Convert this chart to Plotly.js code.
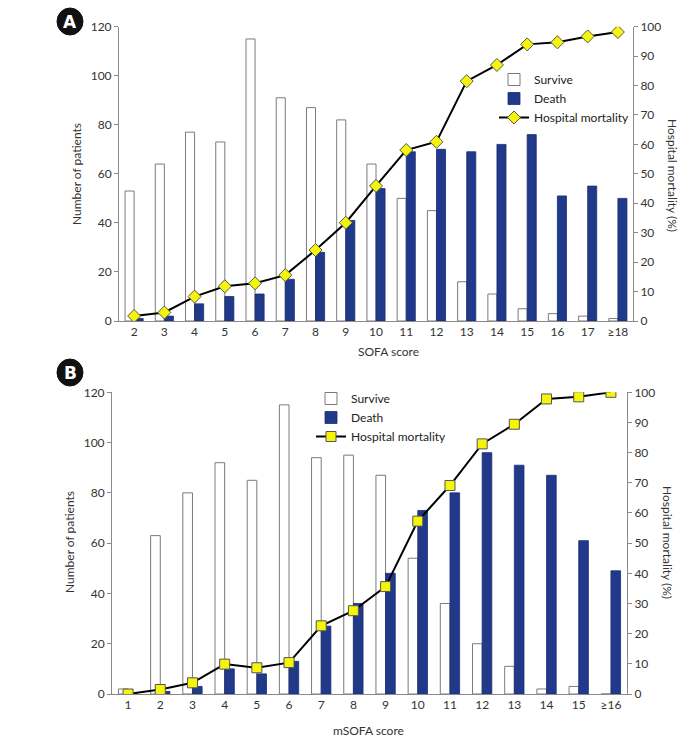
<!DOCTYPE html>
<html>
<head>
<meta charset="utf-8">
<script src="https://cdn.plot.ly/plotly-3.0.1.min.js"></script>
<style>html,body{margin:0;padding:0;background:#fff;}#chart{width:699px;height:743px;}</style>
</head>
<body>
<div id="chart"></div>
<script>
// Panel A: SOFA score
const catsA = ["2","3","4","5","6","7","8","9","10","11","12","13","14","15","16","17","≥18"];
const surviveA = [53, 64, 77, 73, 115, 91, 87, 82, 64, 50, 45, 16, 11, 5, 3, 2, 1];
const deathA = [1, 2, 7, 10, 11, 17, 28, 41, 54, 69, 70, 69, 72, 76, 51, 55, 50];
const mortalityA = [1.7, 2.9, 8.3, 11.8, 12.8, 15.6, 24.1, 33.4, 45.9, 58.1, 60.9, 81.5, 87.0, 94.0, 94.7, 96.7, 98.2];

// Panel B: mSOFA score
const catsB = ["1","2","3","4","5","6","7","8","9","10","11","12","13","14","15","≥16"];
const surviveB = [2, 63, 80, 92, 85, 115, 94, 95, 87, 54, 36, 20, 11, 2, 3, 0];
const deathB = [0, 1, 3, 10, 8, 13, 27, 36, 48, 73, 80, 96, 91, 87, 61, 49];
const mortalityB = [0, 1.5, 3.7, 9.9, 8.7, 10.4, 22.6, 27.6, 35.6, 57.3, 69.1, 82.9, 89.4, 97.8, 98.5, 100];

const FONT = "Lato, Open Sans, sans-serif";
const NAVY = "#21398a";
const AX = "#8a8a8a";

const traces = [
  {type:"bar", x:catsA, y:surviveA, name:"Survive", xaxis:"x", yaxis:"y", legend:"legend",
   marker:{color:"#ffffff", line:{color:"#7a7a7a", width:1}}},
  {type:"bar", x:catsA, y:deathA, name:"Death", xaxis:"x", yaxis:"y", legend:"legend",
   marker:{color:NAVY, line:{color:"#1a2d6e", width:0.8}}},
  {type:"scatter", mode:"lines+markers", x:catsA, y:mortalityA, name:"Hospital mortality", xaxis:"x", yaxis:"y2", legend:"legend",
   line:{color:"#000", width:2}, marker:{symbol:"diamond", size:10, color:"#f5f50a", line:{color:"#555", width:1}}},
  {type:"bar", x:catsB, y:surviveB, name:"Survive", xaxis:"x2", yaxis:"y3", legend:"legend2",
   marker:{color:"#ffffff", line:{color:"#7a7a7a", width:1}}},
  {type:"bar", x:catsB, y:deathB, name:"Death", xaxis:"x2", yaxis:"y3", legend:"legend2",
   marker:{color:NAVY, line:{color:"#1a2d6e", width:0.8}}},
  {type:"scatter", mode:"lines+markers", x:catsB, y:mortalityB, name:"Hospital mortality", xaxis:"x2", yaxis:"y4", legend:"legend2",
   line:{color:"#000", width:2}, marker:{symbol:"square", size:10, color:"#f5f50a", line:{color:"#555", width:1}}}
];

const tickfont = {family:FONT, size:12, color:"#333"};
function xax(domain, anchor, n){
  return {domain:domain, anchor:anchor, type:"category", range:[-0.5, n-0.5], showline:true, linecolor:AX, linewidth:1,
          ticks:"", tickfont:tickfont, showgrid:false, zeroline:false, fixedrange:true};
}
function yl(domain, anchor, max, dt){
  return {domain:domain, anchor:anchor, range:[0,max], dtick:dt, showline:true, linecolor:AX, linewidth:1,
          ticks:"outside", ticklen:4, tickcolor:AX, tickfont:tickfont, showgrid:false, zeroline:false, fixedrange:true};
}

const domXA = [119/699, 633/699], domYA = [1-321/743, 1-26.7/743];
const domXB = [112/699, 627/699], domYB = [1-694/743, 1-392.3/743];

function ann(text, x, y, angle, size, color, family){
  return {text:text, xref:"paper", yref:"paper", x:x/699, y:1-y/743, xanchor:"center", yanchor:"middle",
          textangle:angle||0, showarrow:false, font:{family:family||FONT, size:size||12, color:color||"#333"}};
}

const layout = {
  width:699, height:743, margin:{l:0,r:0,t:0,b:0},
  paper_bgcolor:"#fff", plot_bgcolor:"#fff",
  font:{family:FONT, color:"#333"},
  barmode:"group", bargap:0.4, bargroupgap:0,
  xaxis: xax(domXA, "y", catsA.length),
  yaxis: yl(domYA, "x", 120, 20),
  yaxis2: Object.assign(yl(domYA, "x", 100, 10), {overlaying:"y", side:"right"}),
  xaxis2: xax(domXB, "y3", catsB.length),
  yaxis3: yl(domYB, "x2", 120, 20),
  yaxis4: Object.assign(yl(domYB, "x2", 100, 10), {overlaying:"y3", side:"right", anchor:"x2"}),
  legend:{x:494/699, y:1-65/743, xanchor:"left", yanchor:"top", bgcolor:"rgba(0,0,0,0)",
          font:{family:FONT, size:12, color:"#222"}, tracegroupgap:0, itemwidth:30},
  legend2:{x:311/699, y:1-384/743, xanchor:"left", yanchor:"top", bgcolor:"rgba(0,0,0,0)",
          font:{family:FONT, size:12, color:"#222"}, tracegroupgap:0, itemwidth:30},
  shapes:[
    {type:"circle", layer:"below", xref:"paper", yref:"paper", x0:57/699, x1:83/699, y0:1-35/743, y1:1-8/743, fillcolor:"#111", line:{color:"#111", width:1}},
    {type:"circle", layer:"below", xref:"paper", yref:"paper", x0:57/699, x1:83/699, y0:1-386/743, y1:1-359/743, fillcolor:"#111", line:{color:"#111", width:1}}
  ],
  annotations:[
    ann("<b>A</b>", 70, 22, 0, 17, "#fff", "DejaVu Sans, sans-serif"),
    ann("<b>B</b>", 70, 373, 0, 17, "#fff", "DejaVu Sans, sans-serif"),
    ann("Number of patients", 76, 174, -90),
    ann("Hospital mortality (%)", 673, 175, 90),
    ann("SOFA score", 388, 352, 0),
    ann("Number of patients", 69, 542, -90),
    ann("Hospital mortality (%)", 668, 542, 90),
    ann("mSOFA score", 368, 730, 0)
  ]
};

Plotly.newPlot("chart", traces, layout, {displayModeBar:false, staticPlot:true});
</script>
</body>
</html>
